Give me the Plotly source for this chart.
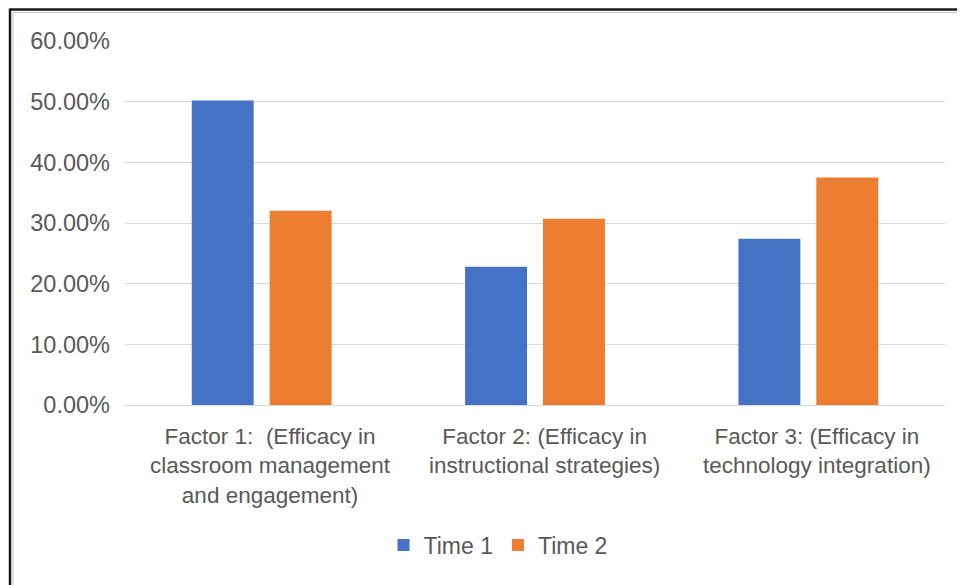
import plotly.graph_objects as go

categories = [
    "Factor 1:\u00a0 (Efficacy in<br>classroom management<br>and engagement)",
    "Factor 2: (Efficacy in<br>instructional strategies)",
    "Factor 3: (Efficacy in<br>technology integration)",
]
time1 = [0.502, 0.228, 0.274]
time2 = [0.320, 0.307, 0.375]
series_names = ["Time 1", "Time 2"]
y_ticks = [0, 0.1, 0.2, 0.3, 0.4, 0.5, 0.6]
y_ticktext = ["0.00%", "10.00%", "20.00%", "30.00%", "40.00%", "50.00%", "60.00%"]

OFF = 8  # page body margin
W, H = 965 - OFF, 585 - OFF
ML, MT = 125 - OFF, 41 - OFF
PW, PH = 820, 364
MR = W - ML - PW
MB = H - MT - PH


def px(x):
    return (x - OFF - ML) / PW


def py(y):
    return 1 - (y - OFF - MT) / PH


FONT = "Liberation Sans, Arial, Helvetica, sans-serif"
TXT = "#595959"

fig = go.Figure()
fig.add_trace(go.Bar(x=categories, y=time1, name=series_names[0],
                     marker=dict(color="#4472C4", line=dict(width=0))))
fig.add_trace(go.Bar(x=categories, y=time2, name=series_names[1],
                     marker=dict(color="#ED7D31", line=dict(width=0))))

shapes = [
    dict(type="line", xref="paper", yref="paper", x0=px(10), x1=px(975), y0=py(9.5), y1=py(9.5),
         line=dict(color="#1a1a1a", width=2.5)),
    dict(type="line", xref="paper", yref="paper", x0=px(10), x1=px(10), y0=py(8.5), y1=py(600),
         line=dict(color="#1a1a1a", width=2.5)),
    dict(type="line", xref="paper", yref="paper", x0=px(13), x1=px(975), y0=py(12.5), y1=py(12.5),
         line=dict(color="#c8c8c8", width=1)),
    dict(type="line", xref="paper", yref="paper", x0=px(13), x1=px(13), y0=py(12.5), y1=py(600),
         line=dict(color="#c8c8c8", width=1)),
]

annotations = [
    dict(x=c, xref="x", y=py(421.5), yref="paper", text=c, showarrow=False,
         xanchor="center", yanchor="top", xshift=9, align="center",
         font=dict(size=22.5, color=TXT, family=FONT))
    for c in categories
]

fig.update_layout(
    width=W, height=H,
    margin=dict(l=ML, r=MR, t=MT, b=MB, autoexpand=False),
    paper_bgcolor="white", plot_bgcolor="white",
    font=dict(family=FONT, size=22, color=TXT),
    barmode="group", bargap=0.43, bargroupgap=0.205,
    showlegend=True,
    legend=dict(orientation="h", x=px(498), xanchor="center", y=py(545), yanchor="middle",
                font=dict(size=23, color=TXT), itemwidth=30, traceorder="normal"),
    shapes=shapes,
    annotations=annotations,
    xaxis=dict(showgrid=False, showline=False, ticks="", showticklabels=False,
               fixedrange=True),
    yaxis=dict(range=[0, 0.6], tickvals=y_ticks, ticktext=y_ticktext, showgrid=True,
               gridcolor="#d9d9d9", gridwidth=1.3, zeroline=True, zerolinecolor="#d9d9d9",
               zerolinewidth=1.3, showline=False, ticks="", ticklabelstandoff=14,
               tickfont=dict(size=23.5, color=TXT), fixedrange=True),
)

fig.write_html("out.html")
